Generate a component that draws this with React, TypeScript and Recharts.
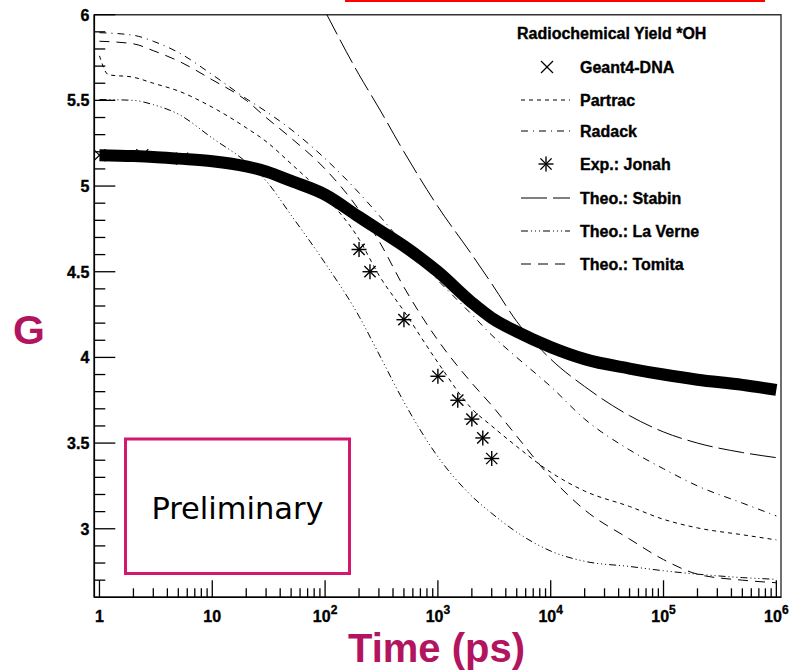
import { ComposedChart, Line, Scatter, XAxis, YAxis, ReferenceArea, Legend } from "recharts";

// time grid (ps) shared by most of the curves
const times = [1, 2, 3, 5, 10, 20, 30, 50, 100, 200, 300, 500, 1e3, 2e3, 3e3, 5e3, 1e4, 2e4, 5e4, 1e5, 2e5, 5e5, 1e6];

const geant4 = [5.18, 5.175, 5.17, 5.16, 5.145, 5.115, 5.085, 5.03, 4.95, 4.82, 4.745, 4.65, 4.5, 4.32, 4.23, 4.15, 4.06, 3.99, 3.935, 3.9, 3.87, 3.84, 3.81];
const radack = [5.895, 5.88, 5.845, 5.78, 5.65, 5.51, 5.435, 5.33, 5.16, 4.96, 4.83, 4.66, 4.45, 4.25, 4.13, 4.0, 3.83, 3.64, 3.46, 3.35, 3.25, 3.15, 3.075];
const laVerne = [5.505, 5.5, 5.475, 5.42, 5.28, 5.14, 5.03, 4.83, 4.55, 4.24, 4.02, 3.74, 3.42, 3.19, 3.09, 2.98, 2.87, 2.81, 2.78, 2.755, 2.735, 2.715, 2.705];
const tomita = [5.845, 5.83, 5.79, 5.73, 5.62, 5.5, 5.4, 5.28, 5.1, 4.86, 4.68, 4.41, 4.1, 3.85, 3.72, 3.54, 3.3, 3.11, 2.94, 2.82, 2.735, 2.7, 2.685];

const partracTimes = [1, 1.2, 2, 3, 5, 10, 20, 30, 50, 100, 200, 300, 500, 1e3, 2e3, 3e3, 5e3, 1e4, 2e4, 5e4, 1e5, 2e5, 5e5, 1e6];
const partrac = [5.76, 5.65, 5.635, 5.6, 5.555, 5.46, 5.34, 5.26, 5.13, 4.94, 4.69, 4.48, 4.27, 3.97, 3.7, 3.6, 3.48, 3.33, 3.22, 3.13, 3.055, 3.005, 2.965, 2.935];

const stabinTimes = [100, 200, 300, 500, 1e3, 2e3, 3e3, 5e3, 1e4, 2e4, 5e4, 1e5, 2e5, 5e5, 1e6];
const stabin = [6.02, 5.65, 5.455, 5.2, 4.88, 4.6, 4.43, 4.21, 3.99, 3.83, 3.66, 3.565, 3.5, 3.445, 3.415];

const jonahTimes = [200, 250, 500, 1000, 1500, 2000, 2500, 3000];
const jonah = [4.63, 4.5, 4.22, 3.89, 3.75, 3.64, 3.53, 3.41];

// the few Geant4-DNA crosses that stand out on the left of the band
const geant4MarkTimes = [1, 2.4, 5.4];
const geant4Marks = [5.18, 5.18, 5.16];

const yMajorTicks = [3, 3.5, 4, 4.5, 5, 5.5, 6];
const yMinorTicks = [2.7, 2.8, 2.9, 3.1, 3.2, 3.3, 3.4, 3.6, 3.7, 3.8, 3.9, 4.1, 4.2, 4.3, 4.4, 4.6, 4.7, 4.8, 4.9, 5.1, 5.2, 5.3, 5.4, 5.6, 5.7, 5.8, 5.9];
const xMajorTicks = [1, 10, 100, 1e3, 1e4, 1e5, 1e6];
const xMajorLabels = ["1", "10", "10|2", "10|3", "10|4", "10|5", "10|6"];
const xMinorTicks = xMajorTicks.slice(0, -1).flatMap((d) => [2, 3, 4, 5, 6, 7, 8, 9].map((m) => m * d));

const legendTitle = "Radiochemical Yield *OH";
const legendNames = ["Geant4-DNA", "Partrac", "Radack", "Exp.: Jonah", "Theo.: Stabin", "Theo.: La Verne", "Theo.: Tomita"];

const toRows = (ts: number[], gs: number[]) => ts.map((t, i) => ({ t, g: gs[i] }));

const FONT = "'Liberation Sans', Arial, Helvetica, sans-serif";
const MAGENTA = "#b3145f";
const BOX = "#d4176f";

const dash = {
  partrac: "4 4",
  radack: "7 5 1 5",
  laVerne: "7 3 1 3 1 3 1 3",
  tomita: "10 7",
  stabin: "26 6",
};

const renderYTick = (props: any) => {
  const { x, y, payload } = props;
  const v = payload.value;
  const major = yMajorTicks.includes(v);
  return (
    <g>
      <line x1={x} x2={x + (major ? 21 : 11)} y1={y} y2={y} stroke="#000" strokeWidth={1.3} />
      {major && (
        <text x={x - 5} y={y + 6} textAnchor="end" fontFamily={FONT} fontWeight="bold" fontSize={16} fill="#000" stroke="#000" strokeWidth={0.35}>
          {v}
        </text>
      )}
    </g>
  );
};

const renderXTick = (props: any) => {
  const { x, y, payload } = props;
  const i = xMajorTicks.indexOf(payload.value);
  const major = i >= 0;
  const [base, exp] = major ? xMajorLabels[i].split("|") : ["", ""];
  return (
    <g>
      <line x1={x} x2={x} y1={y} y2={y - (major ? 17 : 9)} stroke="#000" strokeWidth={1.3} />
      {major && (
        <text x={x} y={y + 25} textAnchor="middle" fontFamily={FONT} fontWeight="bold" fontSize={16} fill="#000" stroke="#000" strokeWidth={0.35}>
          <tspan>{base}</tspan>
          {exp && (
            <tspan dy={-8} fontSize={12}>
              {exp}
            </tspan>
          )}
        </text>
      )}
    </g>
  );
};

const Cross = (props: any) => {
  const { cx, cy } = props;
  const r = 6;
  return (
    <g stroke="#000" strokeWidth={1.2}>
      <line x1={cx - r} y1={cy - r} x2={cx + r} y2={cy + r} />
      <line x1={cx - r} y1={cy + r} x2={cx + r} y2={cy - r} />
    </g>
  );
};

const Asterisk = (props: any) => {
  const { cx, cy } = props;
  const r = 7.5;
  const d = r * 0.75;
  return (
    <g stroke="#000" strokeWidth={1.4}>
      <line x1={cx - r} y1={cy} x2={cx + r} y2={cy} />
      <line x1={cx} y1={cy - r} x2={cx} y2={cy + r} />
      <line x1={cx - d} y1={cy - d} x2={cx + d} y2={cy + d} />
      <line x1={cx - d} y1={cy + d} x2={cx + d} y2={cy - d} />
    </g>
  );
};

// legend drawn in page coordinates, shifted back by the wrapper offset
const LEG_X = 510;
const LEG_Y = 15;
const LegendBox = () => {
  const rowY = [67, 100, 131, 164, 198, 231, 264];
  const x1 = 521;
  const x2 = 570;
  const lineStyles = [null, dash.partrac, dash.radack, null, dash.stabin, dash.laVerne, dash.tomita];
  return (
    <svg width={275} height={270} style={{ display: "block" }}>
      <g transform={`translate(${-LEG_X},${-LEG_Y})`} fontFamily={FONT} fontWeight="bold" fontSize={16} fill="#000">
        <text x={517} y={39} stroke="#000" strokeWidth={0.35}>{legendTitle}</text>
        {legendNames.map((name, i) => (
          <g key={name}>
            {i === 0 && <Cross cx={547} cy={rowY[i]} />}
            {i === 3 && <Asterisk cx={546} cy={rowY[i]} />}
            {lineStyles[i] && (
              <line x1={x1} x2={x2} y1={rowY[i]} y2={rowY[i]} stroke="#000" strokeWidth={1} strokeDasharray={lineStyles[i] as string} />
            )}
            <text x={580} y={rowY[i] + 6} stroke="#000" strokeWidth={0.35}>
              {name}
            </text>
          </g>
        ))}
      </g>
    </svg>
  );
};

export default function App() {
  return (
    <div style={{ position: "absolute", left: 0, top: 0, width: 789, height: 671, background: "#fff" }}>
      <div style={{ position: "absolute", left: 345, top: 0, width: 420, height: 2, background: "#ff0000" }} />
      <ComposedChart width={789} height={671} margin={{ top: 14.7, right: 8, bottom: 33.7, left: 34.3 }}>
        <XAxis
          dataKey="t"
          type="number"
          scale="log"
          domain={[0.9, 1.1e6]}
          allowDataOverflow
          ticks={[...xMajorTicks, ...xMinorTicks]}
          interval={0}
          tick={renderXTick}
          tickLine={false}
          tickSize={0}
          tickMargin={0}
          height={40}
          axisLine={{ stroke: "#000", strokeWidth: 1.6 }}
        />
        <YAxis
          dataKey="g"
          type="number"
          domain={[2.6, 6]}
          allowDataOverflow
          ticks={[...yMajorTicks, ...yMinorTicks]}
          interval={0}
          tick={renderYTick}
          tickLine={false}
          tickSize={0}
          tickMargin={0}
          width={60}
          axisLine={{ stroke: "#000", strokeWidth: 1.6 }}
        />
        <ReferenceArea x1={0.9} x2={1.1e6} y1={2.6} y2={6} fill="none" stroke="#333" strokeWidth={1.4} />
        <Line data={toRows(times, laVerne)} dataKey="g" type="monotone" stroke="#000" strokeWidth={1} strokeDasharray={dash.laVerne} dot={false} isAnimationActive={false} />
        <Line data={toRows(times, tomita)} dataKey="g" type="monotone" stroke="#000" strokeWidth={1} strokeDasharray={dash.tomita} dot={false} isAnimationActive={false} />
        <Line data={toRows(partracTimes, partrac)} dataKey="g" type="monotone" stroke="#000" strokeWidth={1} strokeDasharray={dash.partrac} dot={false} isAnimationActive={false} />
        <Line data={toRows(times, radack)} dataKey="g" type="monotone" stroke="#000" strokeWidth={1} strokeDasharray={dash.radack} dot={false} isAnimationActive={false} />
        <Line data={toRows(stabinTimes, stabin)} dataKey="g" type="monotone" stroke="#000" strokeWidth={1} strokeDasharray={dash.stabin} dot={false} isAnimationActive={false} />
        <Line data={toRows(times, geant4)} dataKey="g" type="monotone" stroke="#000" strokeWidth={12} dot={false} isAnimationActive={false} />
        <Scatter data={toRows(geant4MarkTimes, geant4Marks)} shape={Cross} isAnimationActive={false} />
        <Scatter data={toRows(jonahTimes, jonah)} shape={Asterisk} isAnimationActive={false} />
        <Legend
          layout="horizontal"
          verticalAlign="middle"
          align="center"
          content={() => <LegendBox />}
          wrapperStyle={{ left: LEG_X, top: LEG_Y, width: 275, height: 270 }}
        />
      </ComposedChart>
      <svg width={789} height={671} style={{ position: "absolute", left: 0, top: 0, pointerEvents: "none" }}>
        <text x={13} y={344} fontFamily={FONT} fontWeight="bold" fontSize={41} fill={MAGENTA}>
          G
        </text>
        <text x={436.5} y={662} textAnchor="middle" fontFamily={FONT} fontWeight="bold" fontSize={40} fill={MAGENTA}>
          Time (ps)
        </text>
        <rect x={125.5} y={439} width={224} height={134.5} fill="none" stroke={BOX} strokeWidth={3} />
        <text x={237.5} y={519} textAnchor="middle" fontFamily="'DejaVu Sans', sans-serif" fontSize={30.5} fill="#000">
          Preliminary
        </text>
      </svg>
    </div>
  );
}
